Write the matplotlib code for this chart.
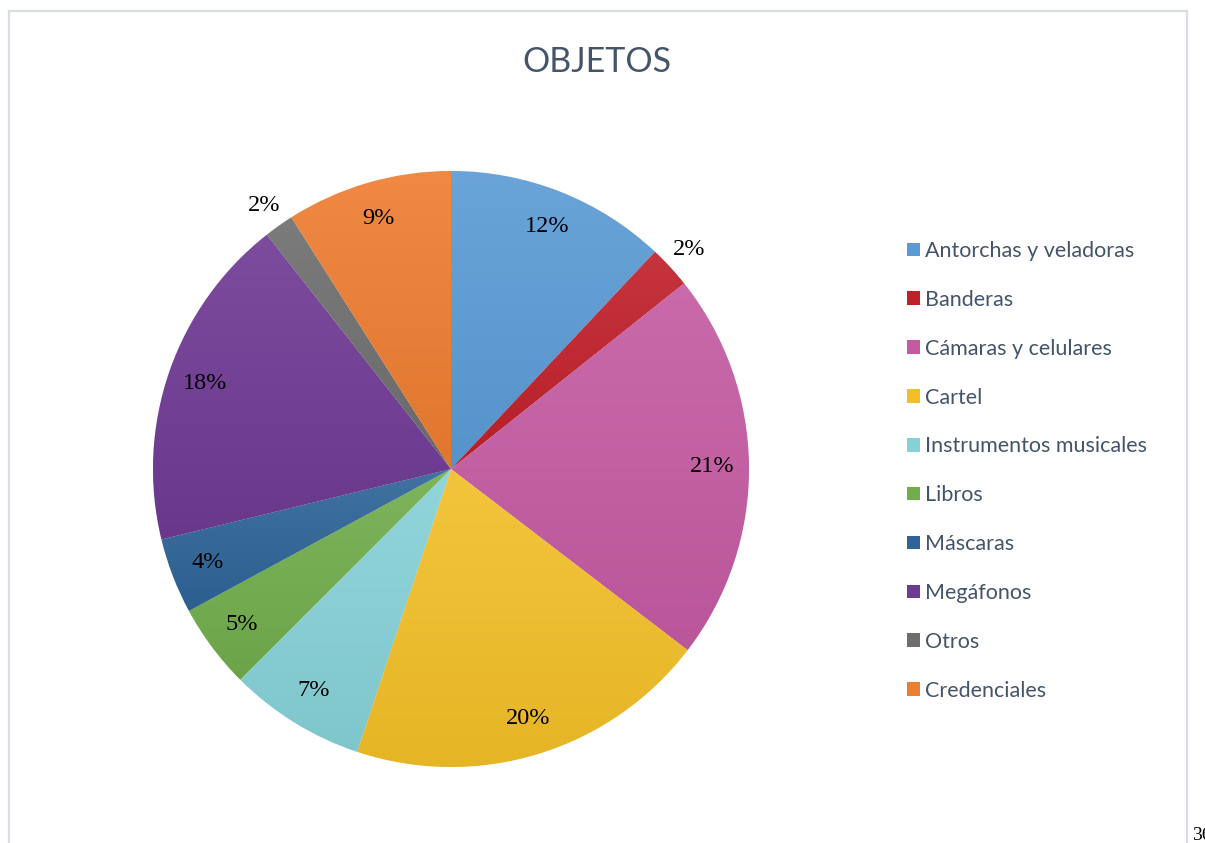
import numpy as np
import matplotlib
matplotlib.use("Agg")
import matplotlib.pyplot as plt
from matplotlib.colors import to_rgb
from matplotlib.patches import Patch

# ── data (percent of objects) ──
categories = ["Antorchas y veladoras", "Banderas", "Cámaras y celulares", "Cartel",
              "Instrumentos musicales", "Libros", "Máscaras", "Megáfonos",
              "Otros", "Credenciales"]
shares = [12.0, 2.3, 21.1, 19.7, 7.4, 4.6, 4.1, 18.2, 1.6, 9.0]
colors = ["#5B9BD5", "#C0202A", "#C45BA2", "#F2BF28", "#86D1D7",
          "#71AD4C", "#2E6497", "#6F3A94", "#6E6E6E", "#ED7D31"]

W, H = 1205, 843
fig = plt.figure(figsize=(W / 100, H / 100), dpi=100)

# chart frame (bottom edge is cut off in the source)
frame_c = "#D9DEE4"
fig.add_artist(plt.Line2D([9 / W, 9 / W], [0, 1 - 11 / H], color=frame_c, lw=1.6))
fig.add_artist(plt.Line2D([9 / W, 1187 / W], [1 - 11 / H, 1 - 11 / H], color=frame_c, lw=1.6))
fig.add_artist(plt.Line2D([1187 / W, 1187 / W], [0, 1 - 11 / H], color=frame_c, lw=1.6))

# pie axes: centre (451, 469) px, radius 298 px
cx, cy, r = 451, 469, 298
ax = fig.add_axes([(cx - r) / W, (H - cy - r) / H, 2 * r / W, 2 * r / H])

wedges, texts, autotexts = ax.pie(
    shares, colors=colors, startangle=90, counterclock=False,
    autopct="%.0f%%", pctdistance=0.875, radius=1.0,
    wedgeprops=dict(linewidth=0.6, edgecolor="white"),
    textprops=dict(family="Liberation Serif", fontsize=17.5, color="black"),
)

# small slices get their label just outside the pie
for w, t, s in zip(wedges, autotexts, shares):
    if s < 3:
        ang = np.deg2rad((w.theta1 + w.theta2) / 2)
        t.set_position((1.085 * np.cos(ang), 1.085 * np.sin(ang)))

# soft vertical gradient inside each slice (lighter on top)
def mix(c, target, a):
    c = np.array(to_rgb(c)); t = np.array(target)
    return c * (1 - a) + t * a

for w, c in zip(wedges, colors):
    ext = w.get_path().get_extents(w.get_patch_transform())
    top = mix(c, (1, 1, 1), 0.09)
    bot = mix(c, (0, 0, 0), 0.05)
    n = 64
    k = np.linspace(0, 1, n)[:, None]
    grad = (top[None, :] * (1 - k) + bot[None, :] * k)[:, None, :]
    im = ax.imshow(grad, extent=[ext.x0, ext.x1, ext.y0, ext.y1],
                   origin="upper", aspect="auto", zorder=w.get_zorder() + 0.1,
                   interpolation="bilinear")
    im.set_clip_path(w)

for t in autotexts:
    t.set_zorder(5)

ax.set_xlim(-1, 1)
ax.set_ylim(-1, 1)
ax.set_aspect("equal")
ax.axis("off")

# title
fig.text(597 / W, 1 - 62 / H, "OBJETOS", ha="center", va="center",
         fontsize=24.5, color="#44546A", family="Lato")

# legend
handles = [Patch(facecolor=c, edgecolor="none", label=l) for c, l in zip(colors, categories)]
fig.legend(handles=handles, loc="upper left", bbox_to_anchor=(907 / W, 1 - 241 / H),
           frameon=False, prop=dict(family="Lato", size=15.5),
           labelcolor="#44546A", handlelength=0.6, handleheight=0.6,
           handletextpad=0.25, labelspacing=1.34, borderaxespad=0, borderpad=0)

# page number peeking in at the corner (clipped by the page edge, as in the source)
fig.text(1192 / W, 1 - 840 / H, "36", ha="left", va="baseline",
         fontsize=14, family="Liberation Serif", color="black")

fig.savefig("out.png", dpi=100, facecolor="white")
